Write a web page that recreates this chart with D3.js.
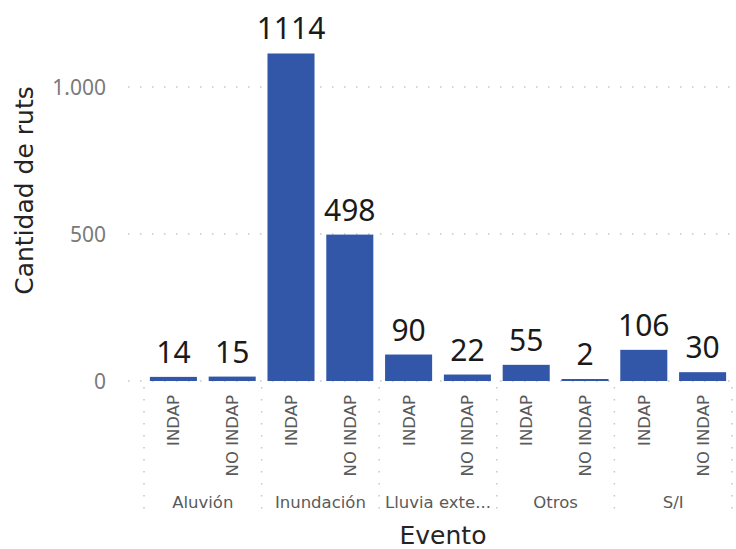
<!DOCTYPE html>
<html>
<head>
<meta charset="utf-8">
<script src="https://d3js.org/d3.v7.min.js"></script>
<style>
  body { margin: 0; background: #fff; }
  svg { display: block; }
</style>
</head>
<body>
<div id="chart"></div>
<script>
// data
const eventos = ['Aluvión', 'Inundación', 'Lluvia extemporánea', 'Otros', 'S/I'];
const tipos = ['INDAP', 'NO INDAP'];
const indapValues = [14, 1114, 90, 55, 106];
const noIndapValues = [15, 498, 22, 2, 30];
const yTicks = [0, 500, 1000];

const width = 736;
const height = 549;

const margin = { top: 87, right: 4, bottom: 168, left: 144 };
const plotH = height - margin.top - margin.bottom; // zero line at 381

const rows = [];
eventos.forEach((e, i) => {
  rows.push({ evento: e, tipo: tipos[0], value: indapValues[i] });
  rows.push({ evento: e, tipo: tipos[1], value: noIndapValues[i] });
});

const svg = d3.select('#chart')
  .append('svg')
  .attr('width', width)
  .attr('height', height);

const y = d3.scaleLinear()
  .domain([0, 1000])
  .range([margin.top + plotH, margin.top]);

const x0 = d3.scaleBand()
  .domain(eventos)
  .range([margin.left, width - margin.right])
  .padding(0);

const x1 = d3.scaleBand()
  .domain(tipos)
  .range([0, x0.bandwidth()])
  .paddingInner(0.2)
  .paddingOuter(0.1);

const gridColor = '#c8c8c8';
const minBarH = 2; // tiny values still get a visible sliver

// horizontal gridlines
svg.append('g')
  .selectAll('line')
  .data(yTicks)
  .join('line')
    .attr('x1', 128)
    .attr('x2', width - 1)
    .attr('y1', d => y(d))
    .attr('y2', d => y(d))
    .attr('stroke', gridColor)
    .attr('stroke-width', 1.5)
    .attr('stroke-dasharray', '1.5,10.5');

// y tick labels
svg.append('g')
  .selectAll('text')
  .data(yTicks)
  .join('text')
    .attr('x', 106)
    .attr('y', d => y(d))
    .attr('dy', '0.36em')
    .attr('text-anchor', 'end')
    .style('font-family', '"Noto Sans", sans-serif')
    .style('font-size', '21px')
    .attr('fill', '#7a7a7a')
    .text(d => d3.format(',')(d).replace(/,/g, '.'));

// group separators (dotted verticals)
const bounds = eventos.map(e => x0(e)).concat([x0(eventos[eventos.length - 1]) + x0.bandwidth()]);
svg.append('g')
  .selectAll('line')
  .data(bounds)
  .join('line')
    .attr('x1', d => d)
    .attr('x2', d => d)
    .attr('y1', y(0) + 6)
    .attr('y2', 516)
    .attr('stroke', gridColor)
    .attr('stroke-width', 1.5)
    .attr('stroke-dasharray', '1.5,10.5');

// bars
svg.append('g')
  .selectAll('rect')
  .data(rows)
  .join('rect')
    .attr('x', d => x0(d.evento) + x1(d.tipo))
    .attr('y', d => Math.min(y(d.value), y(0) - minBarH))
    .attr('width', x1.bandwidth())
    .attr('height', d => Math.max(y(0) - y(d.value), minBarH))
    .attr('fill', '#3257a8');

// data labels
svg.append('g')
  .selectAll('text')
  .data(rows)
  .join('text')
    .attr('x', d => x0(d.evento) + x1(d.tipo) + x1.bandwidth() / 2)
    .attr('y', d => Math.min(y(d.value), y(0) - minBarH) - 14)
    .attr('text-anchor', 'middle')
    .style('font-family', '"Noto Sans", sans-serif')
    .style('font-size', '30px')
    .attr('fill', '#1a1a1a')
    .text(d => d.value);

// sub category labels (rotated)
svg.append('g')
  .selectAll('text')
  .data(rows)
  .join('text')
    .attr('transform', d => `translate(${x0(d.evento) + x1(d.tipo) + x1.bandwidth() / 2},395) rotate(-90)`)
    .attr('dy', '0.36em')
    .attr('text-anchor', 'end')
    .style('font-family', '"DejaVu Sans", sans-serif')
    .style('font-size', '16.5px')
    .attr('fill', '#5a5a5a')
    .text(d => d.tipo);

// group labels, truncated like Power BI
const groupLabels = svg.append('g')
  .selectAll('text')
  .data(eventos)
  .join('text')
    .attr('x', d => x0(d) + x0.bandwidth() / 2)
    .attr('y', 508)
    .attr('text-anchor', 'middle')
    .style('font-family', '"DejaVu Sans", sans-serif')
    .style('font-size', '16.5px')
    .attr('fill', '#5a5a5a')
    .text(d => d);

groupLabels.each(function(d) {
  const el = d3.select(this);
  const maxW = x0.bandwidth() - 4;
  let s = d;
  if (this.getComputedTextLength() > maxW) {
    while (s.length > 1) {
      s = s.slice(0, -1);
      el.text(s.trim() + '...');
      if (this.getComputedTextLength() <= maxW) break;
    }
  }
});

// axis titles
svg.append('text')
  .attr('transform', `translate(33,${y(0) / 2}) rotate(-90)`)
  .attr('text-anchor', 'middle')
  .style('font-family', '"DejaVu Sans", sans-serif')
  .style('font-size', '25px')
  .attr('fill', '#252423')
  .text('Cantidad de ruts');

svg.append('text')
  .attr('x', (x0.range()[0] + x0.range()[1]) / 2 + 5)
  .attr('y', 544)
  .attr('text-anchor', 'middle')
  .style('font-family', '"DejaVu Sans", sans-serif')
  .style('font-size', '25px')
  .attr('fill', '#252423')
  .text('Evento');
</script>
</body>
</html>
